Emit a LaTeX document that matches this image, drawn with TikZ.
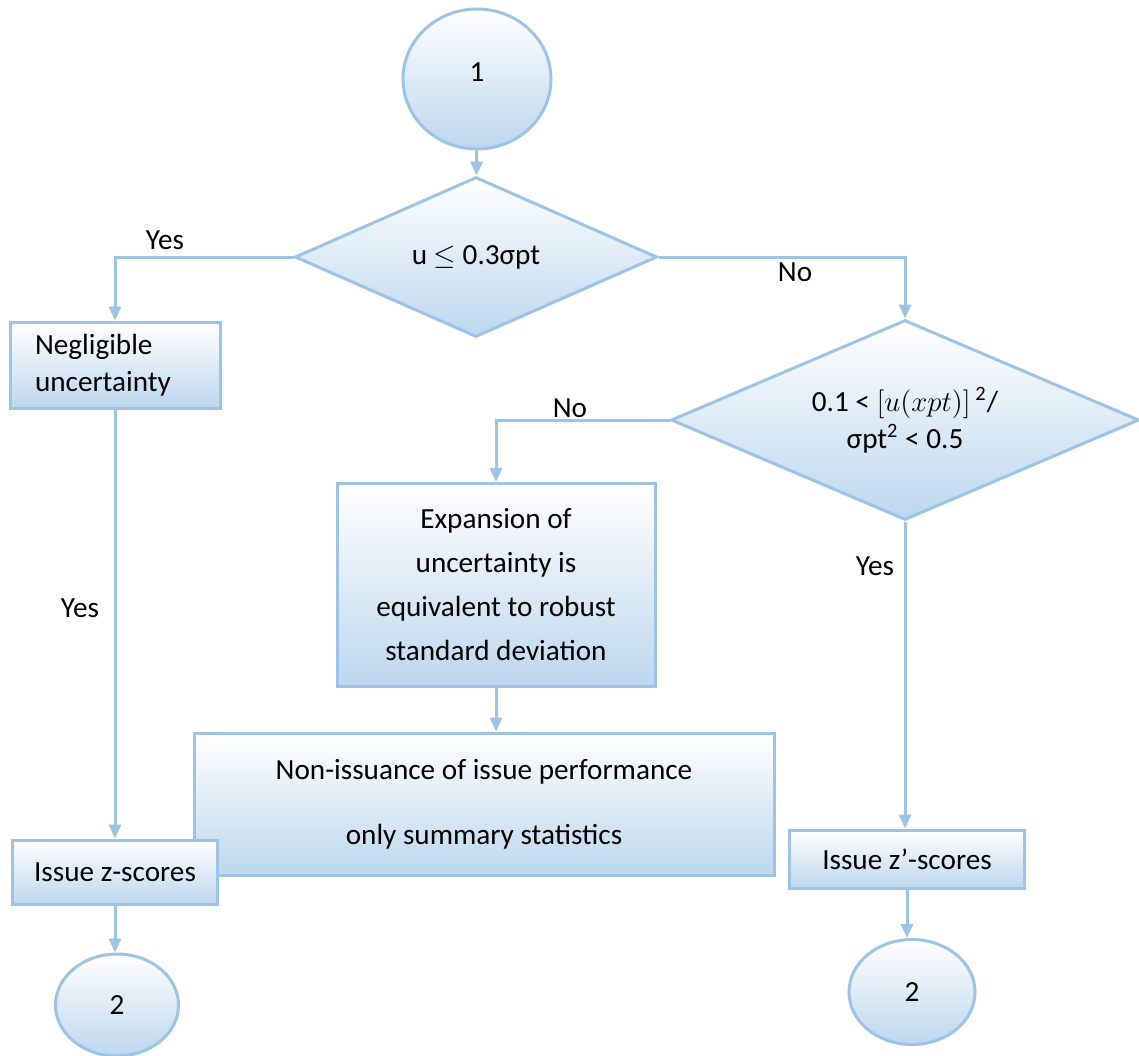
\documentclass[tikz,border=0pt]{standalone}
\usepackage{fontspec}
\setmainfont{Carlito}
\usetikzlibrary{shapes.geometric}
\usetikzlibrary{arrows.meta}

\definecolor{flowline}{RGB}{157,195,230}
\definecolor{flowfill}{RGB}{189,215,238}

\begin{document}
\begin{tikzpicture}[x=0.5pt, y=-0.5pt, line width=1.5pt,
        font=\fontsize{14.6}{17.5}\selectfont,
        shape box/.style={draw=flowline, top color=white, bottom color=flowfill, inner sep=0pt},
        stepbox/.style={shape box, rectangle, align=center},
        ovalbox/.style={shape box, ellipse},
        choicebox/.style={shape box, diamond, aspect=2.3, align=center},
        flow/.style={draw=flowline, -{Triangle[width=6pt,length=7pt]}}]
    \useasboundingbox (0,0) rectangle (1139,1055);
    \node[ovalbox, minimum width=74pt, minimum height=70pt] (start) at (477,79) {\raisebox{7pt}{1}};
    \node[choicebox, minimum width=181pt, minimum height=80pt] (lowu) at (476,257) {u $\le$ 0.3σpt};
    \node[stepbox, minimum width=105pt, minimum height=43pt, text width=80pt, align=left] (neglig) at (115,365) {Negligible\\[1pt]uncertainty};
    \node[choicebox, minimum width=234pt, minimum height=100pt] (ratio) at (905,420) {0.1 < $[u(xpt)]$\,\textsuperscript{2}/\\[1pt]σpt\textsuperscript{2} < 0.5};
    \node[stepbox, minimum width=159pt, minimum height=101.5pt] (expand) at (496,585) {Expansion of\\[4.5pt]uncertainty is\\[4.5pt]equivalent to robust\\[4.5pt]standard deviation};
    \node[stepbox, minimum width=290pt, minimum height=71pt] (noissue) at (484,804) {Non-issuance of issue performance\\[15pt]only summary statistics};
    \node[stepbox, minimum width=102.5pt, minimum height=32pt] (zscore) at (115,872) {Issue z-scores};
    \node[stepbox, minimum width=117.5pt, minimum height=29pt] (zpscore) at (907,859) {Issue z’-scores};
    \node[ovalbox, minimum width=61.5pt, minimum height=51pt] (endleft) at (117,1005) {2};
    \node[ovalbox, minimum width=63pt, minimum height=52.5pt] (endright) at (912,992) {2};

    \draw[flow] (start) -- (lowu);
    \draw[flow] (lowu.west) -| (neglig.north);
    \draw[flow] (lowu.east) -| (ratio.north);
    \draw[flow] (ratio.west) -| (expand.north);
    \draw[flow] (expand.south) -- (expand.south |- noissue.north);
    \draw[flow] (neglig) -- (zscore);
    \draw[flow] (ratio.south) -- (ratio.south |- zpscore.north);
    \draw[flow] (zscore.south) -- (zscore.south |- endleft.north);
    \draw[flow] (zpscore.south) -- (zpscore.south |- endright.north);

    \node (yesone) at (165,240) {Yes};
    \node (noone) at (795,272) {No};
    \node (notwo) at (570,408) {No};
    \node (yestwo) at (80,608) {Yes};
    \node (yesthree) at (875,566) {Yes};
\end{tikzpicture}
\end{document}
